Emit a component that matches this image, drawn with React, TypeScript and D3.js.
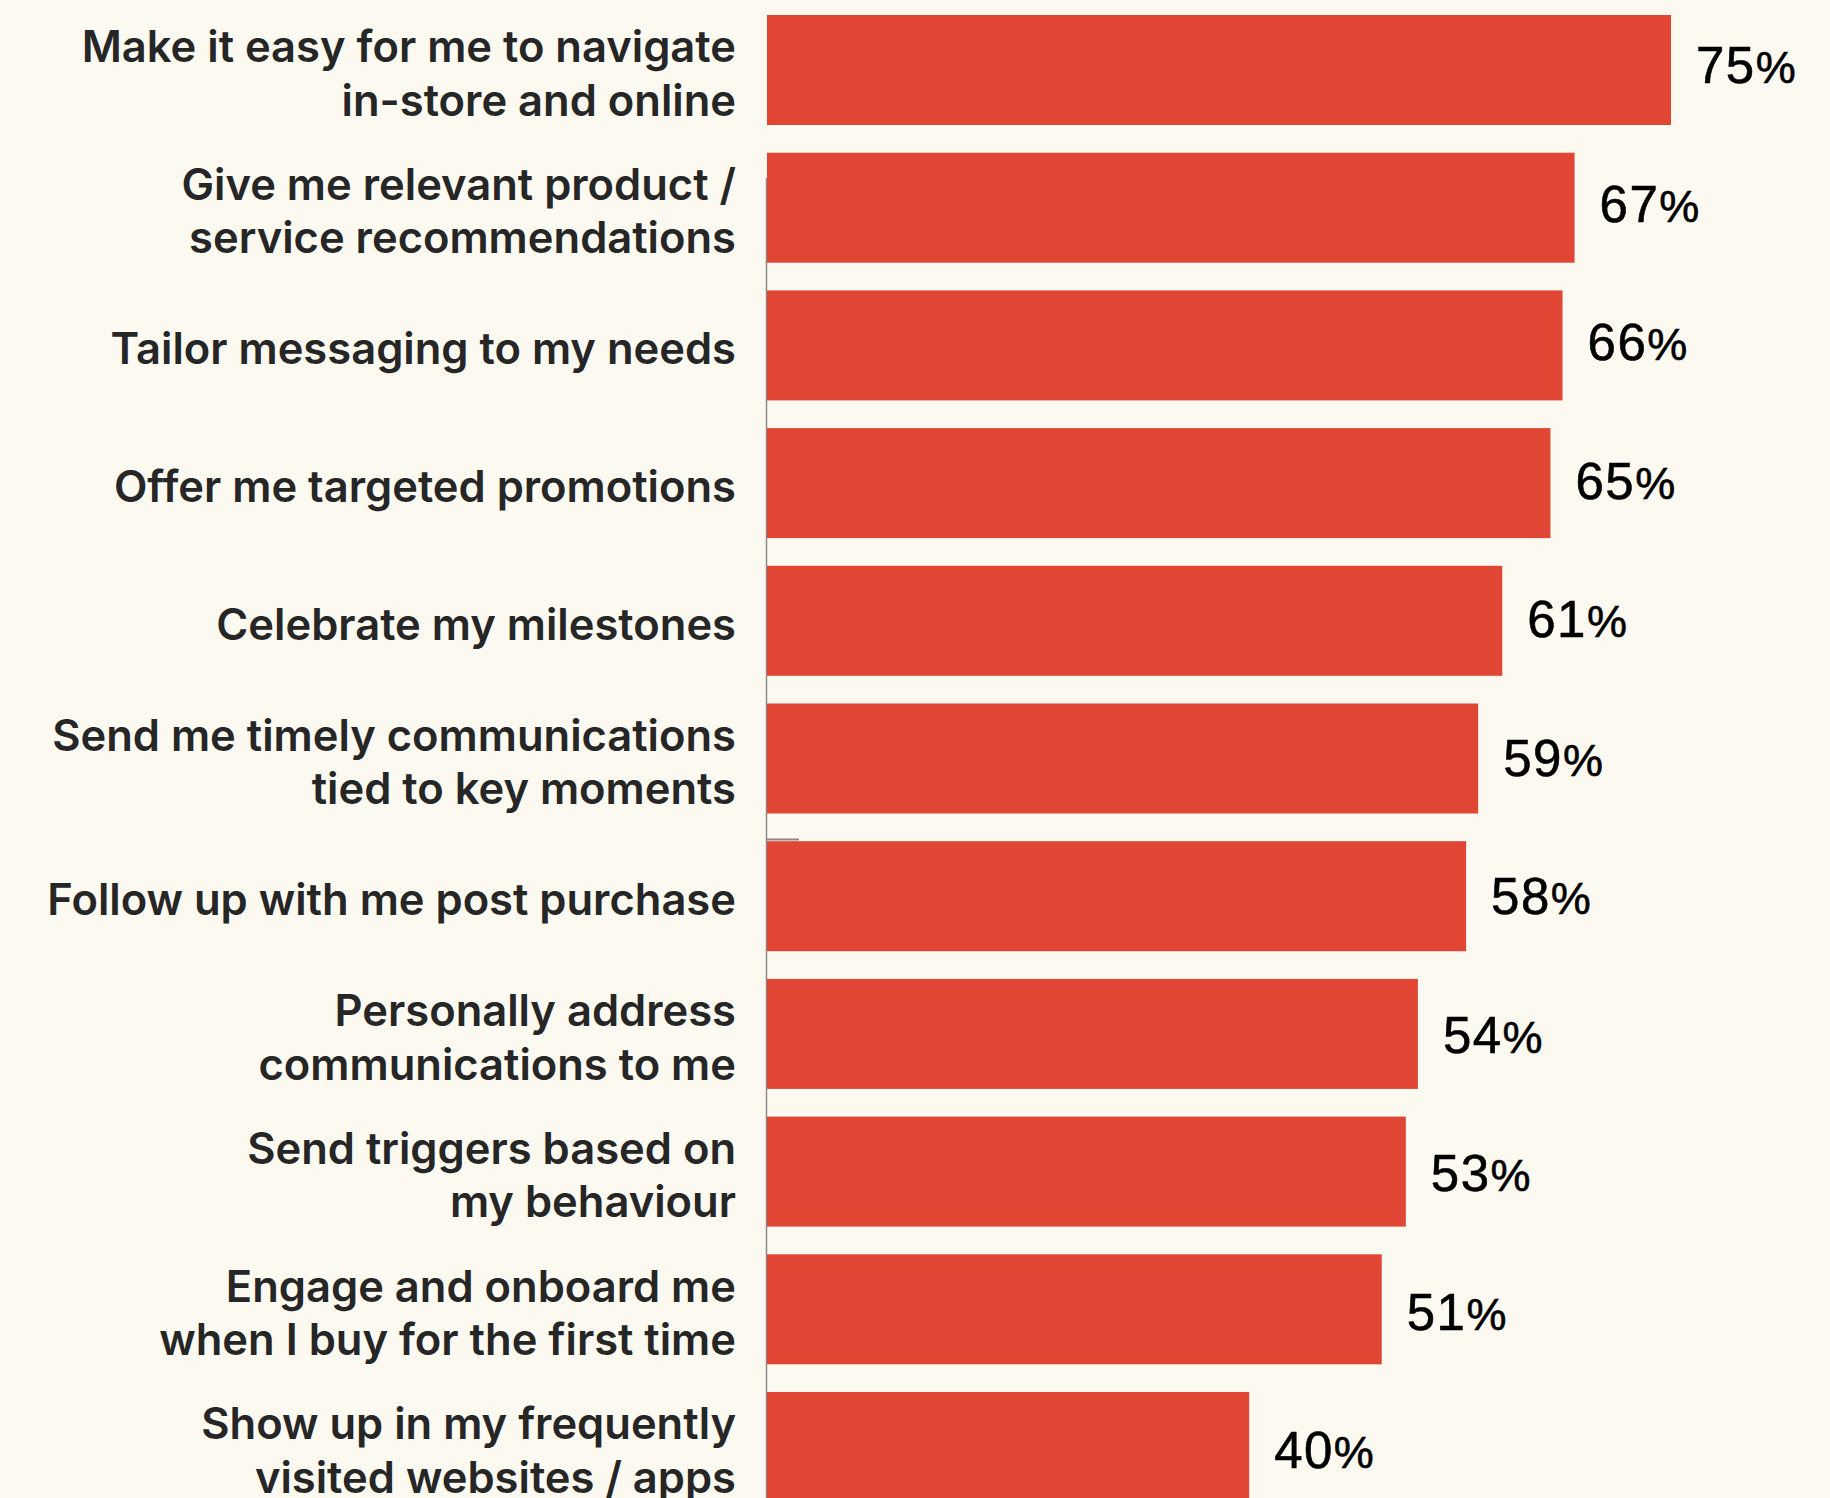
import React from "react";
import * as d3 from "d3";

const categories: string[][] = [
  ["Make it easy for me to navigate", "in-store and online"],
  ["Give me relevant product /", "service recommendations"],
  ["Tailor messaging to my needs"],
  ["Offer me targeted promotions"],
  ["Celebrate my milestones"],
  ["Send me timely communications", "tied to key moments"],
  ["Follow up with me post purchase"],
  ["Personally address", "communications to me"],
  ["Send triggers based on", "my behaviour"],
  ["Engage and onboard me", "when I buy for the first time"],
  ["Show up in my frequently", "visited websites / apps"],
];
const values: number[] = [75, 67, 66, 65, 61, 59, 58, 54, 53, 51, 40];

const W = 1830;
const H = 1498;
const BG = "#fcf9f1";
const BAR = "#e14534";

export default function App() {
  const x0 = 767;
  const x = d3.scaleLinear().domain([0, 75]).range([x0, 1671]);
  const step = 137.7;
  const bandH = 110;
  const top = 15 - (step - bandH) / 2;
  const idx = d3.range(values.length).map(String);
  const y = d3
    .scaleBand<string>()
    .domain(idx)
    .range([top, top + step * values.length])
    .paddingInner((step - bandH) / step)
    .paddingOuter((step - bandH) / step / 2);

  const lineH = 53.3;
  const cap = 31;

  return (
    <div style={{ position: "fixed", left: 0, top: 0, width: W, height: H, background: BG }}>
      <svg width={W} height={H} style={{ display: "block" }}>
        <rect x={0} y={0} width={W} height={H} fill={BG} />
        <line x1={766.5} x2={766.5} y1={178} y2={H} stroke="#8a8a8a" strokeWidth={1.5} />
        <line x1={766.5} x2={799} y1={839.5} y2={839.5} stroke="#8a8a8a" strokeWidth={2} />
        {values.map((v, i) => {
          const yy = y(String(i))!;
          const bw = y.bandwidth();
          const c = yy + bw / 2;
          const lines = categories[i];
          const firstBase = c + 3.5 - ((lines.length - 1) * lineH) / 2 + cap / 2;
          return (
            <g key={i}>
              <rect x={x(0)} y={yy} width={x(v) - x(0)} height={bw} fill={BAR} />
              <text
                x={x(v) + 25}
                y={c + 13 + i * 0.8}
                fontFamily="'Liberation Sans', Arial, sans-serif"
                fontSize={51}
                letterSpacing={1.5}
                fill="#000"
                stroke="#000"
                strokeWidth={0.6}
              >
                {String(v)}
                <tspan fontSize={45}>%</tspan>
              </text>
              <text
                textAnchor="end"
                fontFamily="Inter, 'Noto Sans', sans-serif"
                fontWeight={600}
                fontSize={43.5}
                fill="#262626"
              >
                {lines.map((l, j) => (
                  <tspan key={j} x={736} y={firstBase + j * lineH}>
                    {l}
                  </tspan>
                ))}
              </text>
            </g>
          );
        })}
      </svg>
    </div>
  );
}
